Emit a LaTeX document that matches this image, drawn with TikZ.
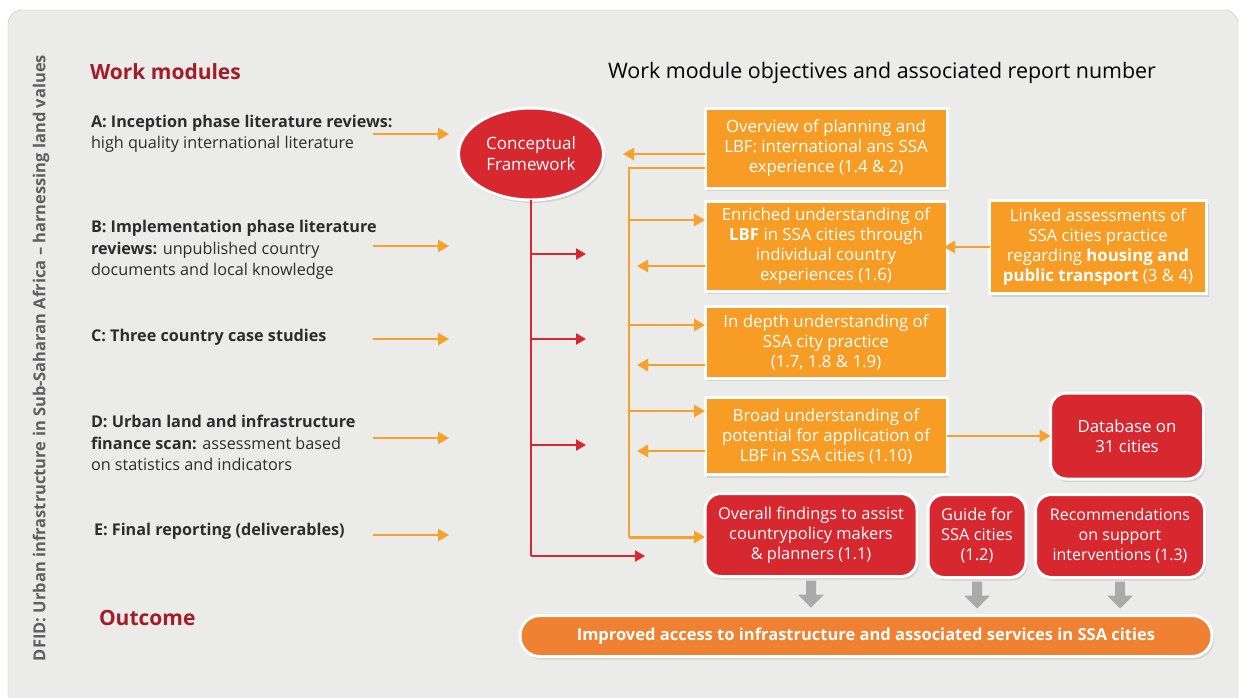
\documentclass[tikz,border=0pt]{standalone}
\usepackage{fontspec}
\setmainfont{Open Sans}
\usepackage{tikz}
\usetikzlibrary{calc, math}
\usetikzlibrary{arrows.meta}
\usetikzlibrary{shapes.geometric}
\usetikzlibrary{shadows}
\usetikzlibrary{positioning}

\definecolor{bgGray}{RGB}{235,235,233}
\definecolor{frameGray}{RGB}{195,195,195}
\definecolor{darkRed}{RGB}{163,28,40}
\definecolor{cfRed}{RGB}{215,40,47}
\definecolor{boxOrange}{RGB}{247,157,37}
\definecolor{lineOrange}{RGB}{247,160,42}
\definecolor{barOrange}{RGB}{240,128,50}
\definecolor{sideGray}{RGB}{95,95,95}
\definecolor{modGray}{RGB}{45,45,45}
\definecolor{blockGray}{RGB}{170,170,170}

\begin{document}
\begin{tikzpicture}[x=1pt, y=-1pt,
  every node/.style={inner sep=0pt, outer sep=0pt},
  objbox/.style={rectangle, fill=boxOrange, draw=white, line width=3pt, text=white, align=center,
    font=\fontsize{16.8}{20}\selectfont, drop shadow={opacity=0.22, shadow xshift=2pt, shadow yshift=-3pt}},
  resbox/.style={objbox, fill=cfRed, rounded corners=16pt},
  oarrow/.style={draw=lineOrange, line width=2.4pt, -{Triangle[length=11pt, width=12pt]}},
  rarrow/.style={draw=cfRed, line width=2pt, -{Triangle[length=10pt, width=11pt]}},
  modtext/.style={anchor=west, align=left, text=modGray, font=\fontsize{16.2}{21.5}\selectfont},
  heading/.style={anchor=west, text=darkRed, font=\fontsize{21}{24}\selectfont\bfseries}]
  \useasboundingbox (0,0) rectangle (1244,697);

  % panel
  \fill[white] (0,0) rectangle (1244,697);
  \begin{scope}
    \clip (0,0) rectangle (1244,697);
    \draw[frameGray, fill=bgGray, rounded corners=14pt] (8,10) rectangle (1238,730);
  \end{scope}

  \node[rotate=90, text=sideGray, font=\fontsize{16.5}{18}\selectfont\bfseries] (side) at (41,358)
    {DFID: Urban infrastructure in Sub-Saharan Africa – harnessing land values};

  % headings
  \node[heading] (wm) at (90,72) {Work modules};
  \node[heading] (oc) at (99,618) {Outcome};
  \node[font=\fontsize{21.4}{24}\selectfont, text=black] (obj) at (882,73)
    {Work module objectives and associated report number};

  % work modules
  \node[modtext] (ma) at (91,134) {\textbf{A: Inception phase literature reviews:}\\high quality international literature};
  \node[modtext] (mb) at (91,250) {\textbf{B: Implementation phase literature}\\\textbf{reviews:} unpublished country\\documents and local knowledge};
  \node[modtext] (mc) at (91,337) {\textbf{C: Three country case studies}};
  \node[modtext] (md) at (91,443) {\textbf{D: Urban land and infrastructure}\\\textbf{finance scan:} assessment based\\on statistics and indicators};
  \node[modtext] (me) at (94,531) {\textbf{E: Final reporting (deliverables)}};

  \foreach \y/\n in {134/a, 246/b, 339/c, 438/d, 535/e} {
    \coordinate (m\n-out) at (373,\y);
    \coordinate (m\n-tip) at (449,\y);
    \draw[oarrow] (m\n-out) -- (m\n-tip);
  }

  % conceptual framework
  \node[ellipse, minimum width=145pt, minimum height=92pt, fill=cfRed, draw=white, line width=3pt,
    text=white, align=center, font=\fontsize{17}{21}\selectfont,
    drop shadow={opacity=0.22, shadow xshift=2pt, shadow yshift=-3pt}] (cf) at (531,154)
    {Conceptual\\Framework};

  % objective boxes
  \node[objbox, minimum width=242pt, minimum height=80pt] (ob1) at (826,148)
    {Overview of planning and\\LBF: international ans SSA\\experience (1.4 \& 2)};
  \node[objbox, minimum width=242pt, minimum height=90pt] (ob2) at (826,246)
    {Enriched understanding of\\\textbf{LBF} in SSA cities through\\individual country\\experiences (1.6)};
  \node[objbox, minimum width=242pt, minimum height=72pt] (ob3) at (826,342)
    {In depth understanding of\\SSA city practice\\(1.7, 1.8 \& 1.9)};
  \node[objbox, minimum width=242pt, minimum height=77pt] (ob4) at (826,436)
    {Broad understanding of\\potential for application of\\LBF in SSA cities (1.10)};
  \node[objbox, minimum width=217pt, minimum height=93pt] (link) at (1098,247)
    {Linked assessments of\\SSA cities practice\\regarding \textbf{housing and}\\\textbf{public transport} (3 \& 4)};

  % result boxes
  \node[resbox, minimum width=153pt, minimum height=86pt] (db) at (1127,436) {Database on\\31 cities};
  \node[resbox, minimum width=212pt, minimum height=83pt, font=\fontsize{16.4}{20}\selectfont] (res1) at (811,535)
    {Overall findings to assist\\countrypolicy makers\\\& planners (1.1)};
  \node[resbox, minimum width=98pt, minimum height=83pt, font=\fontsize{16.4}{20}\selectfont] (res2) at (977,536)
    {Guide for\\SSA cities\\(1.2)};
  \node[resbox, minimum width=169pt, minimum height=83pt, font=\fontsize{16}{20}\selectfont] (res3) at (1120,536)
    {Recommendations\\on support\\interventions (1.3)};

  % outcome
  \node[objbox, fill=barOrange, rounded corners=20pt, minimum width=692pt, minimum height=41pt,
    font=\fontsize{16.5}{20}\selectfont\bfseries] (bar) at (866,636)
    {Improved access to infrastructure and associated services in SSA cities};

  % red spine
  \coordinate (rs-bot) at (531,556);
  \coordinate (rs-tip) at (645,556);
  \draw[cfRed, line width=2pt] (cf.south) -- (rs-bot);
  \draw[rarrow] (rs-bot) -- (rs-tip);
  \foreach \y in {254, 339, 445} {
    \coordinate (rb-\y) at (531,\y);
    \coordinate (rt-\y) at (586,\y);
    \draw[rarrow] (rb-\y) -- (rt-\y);
  }

  % orange spine
  \coordinate (os-top) at (629,168);
  \coordinate (os-bot) at (629,537);
  \draw[lineOrange, line width=2.6pt] (ob1.west |- os-top) -- (os-top) -- (os-bot);
  \draw[oarrow, line width=3pt] (os-bot) -- (os-bot -| res1.west);
  \foreach \y/\b in {220/ob2, 325/ob3, 411/ob4} {
    \coordinate (os-\b) at (629,\y);
    \draw[oarrow] (os-\b) -- (os-\b -| \b.west);
  }

  % back to the framework
  \coordinate (back-ob1) at (623,154);
  \draw[oarrow] (ob1.west |- back-ob1) -- (back-ob1);
  \foreach \y/\b in {266/ob2, 365/ob3, 451/ob4} {
    \coordinate (back-\b) at (637,\y);
    \draw[oarrow] (\b.west |- back-\b) -- (back-\b);
  }

  \draw[oarrow, shorten >=-3pt] (link.west) -- (link.west -| ob2.east);
  \draw[oarrow] (ob4.east) -- (db.west);

  % gray block arrows
  \foreach \b in {res1, res2, res3} {
    \fill[blockGray] ($(\b.south)+(-5,4)$) -- ++(10,0) -- ++(0,14) -- ++(8,0)
      -- ++(-13,13) -- ++(-13,-13) -- ++(8,0) -- cycle;
  }
\end{tikzpicture}
\end{document}
